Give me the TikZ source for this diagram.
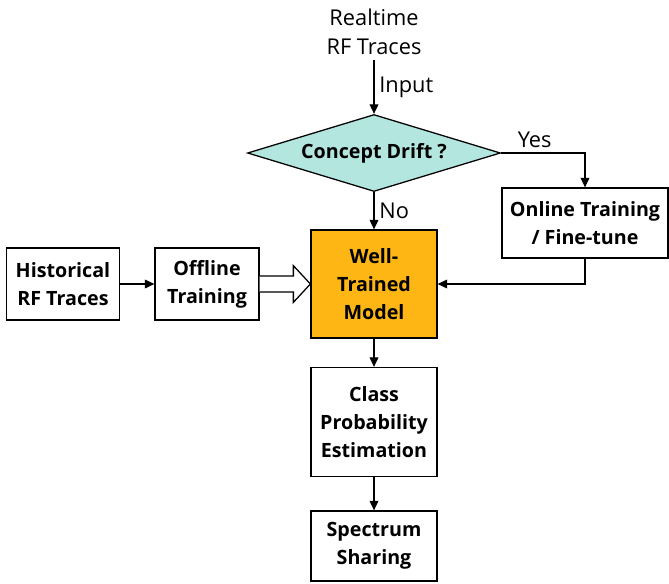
\documentclass[tikz,border=0pt]{standalone}
\usepackage{fontspec}
\setmainfont{Open Sans}
\usepackage{tikz}
\usetikzlibrary{shapes.geometric,arrows.meta,positioning}
\definecolor{driftcol}{RGB}{178,230,222}
\definecolor{modelcol}{RGB}{253,182,20}

\begin{document}
\begin{tikzpicture}[node distance={32.5mm}, >={Triangle[length=2.4mm,width=2.2mm]},
  every node/.style={font=\fontsize{15.5}{20.6}\selectfont},
  main/.style = {draw, line width=0.9pt, align=center, font=\fontsize{14}{19.8}\selectfont\bfseries},
  every path/.style={line width=0.9pt}]
\useasboundingbox (0,0) rectangle (16.725,-14.575);
\node[align=center] (1) at (9.35,-0.8) {Realtime\\RF Traces};
\node[main, diamond, aspect=3.3, inner sep=0pt, fill=driftcol, minimum width=6.325cm, minimum height=1.925cm] (2) [below of=1, yshift=2.25mm] {Concept Drift ?};
\node[main, fill=modelcol, minimum width=3.15cm, minimum height=2.7cm] (3) [below of=2, yshift=-0.25mm] {Well-\\Trained\\Model};
\node[main, minimum width=3.15cm, minimum height=2.725cm] (4) [below of=3, yshift=-2mm] {Class\\Probability\\Estimation};
\node[main, minimum width=3.15cm, minimum height=1.75cm] (5) [below of=4, yshift=1.5mm] {Spectrum\\Sharing};
\node[main, minimum width=4.15cm, minimum height=1.75cm] (6) [right of=2, xshift=20.25mm, yshift=-17.5mm] {Online Training\\/ Fine-tune};
\node[main, minimum width=2.6cm, minimum height=1.8cm] (8) [left of=3, xshift=-9.25mm] {Offline\\Training};
\node[main, minimum width=2.825cm, minimum height=1.8cm] (7) [left of=8, xshift=-3.5mm] {Historical\\RF Traces};
\draw[->] (1) -- node[right] {Input} (2);
\draw[->] (2) -- node[right] {No} (3);
\draw[->] (2.east) -| node[pos=0.2, above] {Yes} (6);
\draw[->] (6) |- (3);
\draw[->] (7) -- (8);
\draw[->] (3) -- (4);
\draw[->] (4) -- (5);
% hollow arrow into the model
\draw[fill=white] ([yshift=2mm]8.east) -- ([xshift=-4.25mm,yshift=2mm]3.west) -- ([xshift=-4.25mm,yshift=4.6mm]3.west) -- (3.west) -- ([xshift=-4.25mm,yshift=-4.6mm]3.west) -- ([xshift=-4.25mm,yshift=-2mm]3.west) -- ([yshift=-2mm]8.east);
\end{tikzpicture}
\end{document}
